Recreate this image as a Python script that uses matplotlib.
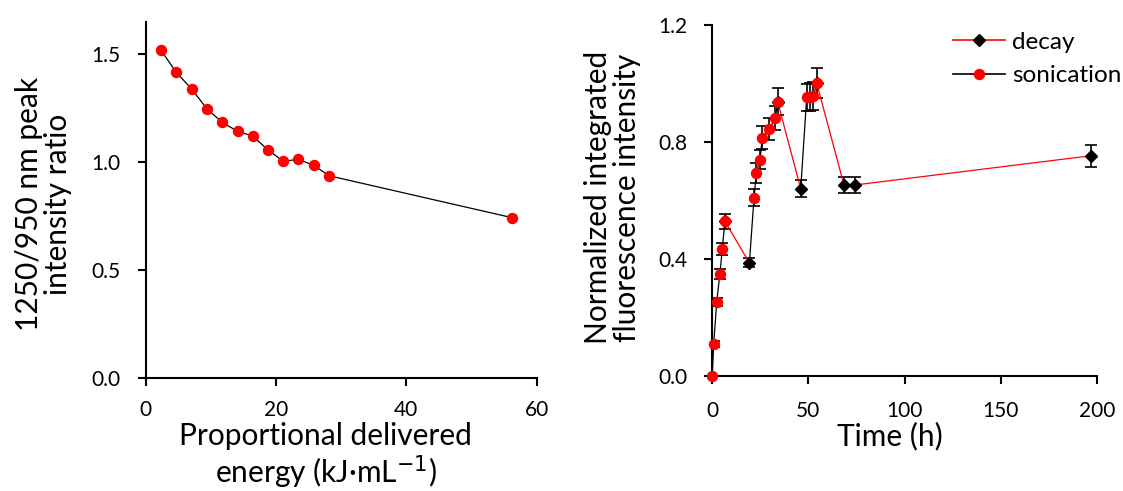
import matplotlib
matplotlib.use("Agg")
from matplotlib import pyplot as plt
from matplotlib.lines import Line2D

plt.rcParams['font.family'] = ['Lato', 'DejaVu Sans']

# left panel: peak ratio vs delivered energy
energy = [2.35, 4.7, 7.05, 9.4, 11.75, 14.1, 16.4, 18.75, 21.1, 23.45, 25.8, 28.15, 56.2]
ratio = [1.516, 1.414, 1.337, 1.245, 1.182, 1.141, 1.119, 1.056, 1.002, 1.011, 0.983, 0.935, 0.741]

# right panel: fluorescence over time, 's' = sonication, 'd' = decay
time_h = [0, 0.7, 2.3, 3.9, 5.2, 6.5, 19.3, 21.7, 22.9, 24.8, 26.0, 29.7, 32.8, 34.0,
          46.0, 49.1, 50.8, 52.6, 54.3, 68.5, 74.4, 197]
intensity = [0.0, 0.108, 0.252, 0.347, 0.433, 0.529, 0.386, 0.609, 0.694, 0.740, 0.815,
             0.844, 0.882, 0.938, 0.640, 0.953, 0.955, 0.957, 1.002, 0.653, 0.653, 0.753]
err = [0.0, 0.01, 0.013, 0.017, 0.02, 0.026, 0.015, 0.029, 0.034, 0.034, 0.039, 0.038,
       0.042, 0.047, 0.03, 0.047, 0.047, 0.047, 0.05, 0.028, 0.028, 0.038]
phase = ['s'] * 6 + ['d'] + ['s'] * 7 + ['d'] + ['s'] * 4 + ['d'] * 3

fig = plt.figure(figsize=(11.23, 4.91), dpi=100)


def style(ax):
    for s in ['top', 'right']:
        ax.spines[s].set_visible(False)
    for s in ['left', 'bottom']:
        ax.spines[s].set_linewidth(1.5)
    ax.tick_params(axis='both', direction='out', length=6, width=1.5,
                   labelsize=15, pad=12)


ax1 = fig.add_axes([0.1297, 0.2308, 0.3482, 0.7244])
ax1.plot(energy, ratio, color='black', lw=0.9, marker='o', ms=7.2,
         mfc='red', mec='red', zorder=3)
ax1.set_xlim(0, 60)
ax1.set_ylim(0, 1.647)
ax1.set_xticks([0, 20, 40, 60])
ax1.set_yticks([0, 0.5, 1.0, 1.5])
ax1.set_yticklabels(['0.0', '0.5', '1.0', '1.5'])
ax1.set_ylabel('1250/950 nm peak\nintensity ratio', fontsize=21.5, linespacing=1.05)
ax1.set_xlabel('Proportional delivered\nenergy (kJ·mL$^{-1}$)', fontsize=21.5, linespacing=1.1)
style(ax1)
ax1.tick_params(axis='x', pad=10)
ax1.xaxis.set_label_coords(0.46, -0.125)
ax1.yaxis.set_label_coords(-0.188, 0.488)

ax2 = fig.add_axes([0.6343, 0.2352, 0.3423, 0.7133])
# connecting segments: red into a decay point, black into a sonication point
for i in range(len(time_h) - 1):
    c = 'red' if phase[i + 1] == 'd' else 'black'
    ax2.plot(time_h[i:i + 2], intensity[i:i + 2], color=c, lw=0.9, zorder=2)
ax2.errorbar(time_h, intensity, yerr=err, fmt='none', ecolor='black',
             elinewidth=1.2, capsize=4.3, capthick=1.2, zorder=1)
d_idx = [i for i in range(len(time_h))
         if phase[i] == 'd' or (i + 1 < len(time_h) and phase[i + 1] == 'd')]
s_idx = [i for i in range(len(time_h)) if phase[i] == 's']
ax2.plot([time_h[i] for i in d_idx], [intensity[i] for i in d_idx], ls='none',
         marker='D', ms=6.2, color='black', zorder=3, clip_on=False)
ax2.plot([time_h[i] for i in s_idx], [intensity[i] for i in s_idx], ls='none',
         marker='o', ms=7.2, color='red', zorder=4, clip_on=False)
ax2.set_xlim(0, 200)
ax2.set_ylim(0, 1.2)
ax2.set_xticks([0, 50, 100, 150, 200])
ax2.set_yticks([0, 0.4, 0.8, 1.2])
ax2.set_yticklabels(['0.0', '0.4', '0.8', '1.2'])
ax2.set_xlabel('Time (h)', fontsize=21.5)
ax2.set_ylabel('Normalized integrated\nfluorescence intensity', fontsize=21.5, linespacing=1.05)
ax2.xaxis.set_label_coords(0.462, -0.133)
ax2.yaxis.set_label_coords(-0.185, 0.508)
style(ax2)

handles = [Line2D([], [], color='red', lw=1.2, marker='D', ms=6.2, mfc='black', mec='black'),
           Line2D([], [], color='black', lw=1.2, marker='o', ms=7.2, mfc='red', mec='red')]
fig.legend(handles, ['decay', 'sonication'], loc='upper left',
           bbox_to_anchor=(0.8486, 0.935), frameon=False, fontsize=17.5,
           borderpad=0, borderaxespad=0, handlelength=2.14, labelspacing=0.5,
           handletextpad=0.3)

fig.savefig('out.png', dpi=100)
